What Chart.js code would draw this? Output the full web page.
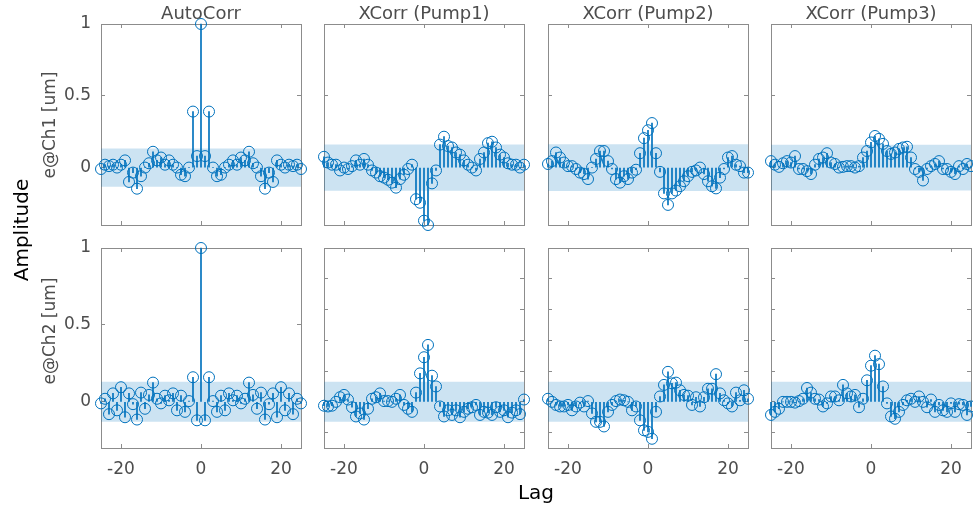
<!DOCTYPE html>
<html lang="en">
<head>
<meta charset="UTF-8">
<title>AutoCorr / XCorr stems</title>
<script src="https://cdn.jsdelivr.net/npm/chart.js@4.4.1/dist/chart.umd.min.js"></script>
<style>
  body { margin: 0; background: #fff; font-family: 'DejaVu Sans', sans-serif; }
  #fig { position: relative; width: 973px; height: 508px; overflow: hidden; }
  #fig canvas { position: absolute; }
  .lbl { position: absolute; white-space: nowrap; line-height: 1; transform: translate(-50%, -50%); }
  .rot { transform: translate(-50%, -50%) rotate(-90deg); }
</style>
</head>
<body>
<div id="fig"></div>
<script>
// --- data ---
const lags = [-25, -24, -23, -22, -21, -20, -19, -18, -17, -16, -15, -14, -13, -12, -11, -10, -9, -8, -7, -6, -5, -4, -3, -2, -1,
  0, 1, 2, 3, 4, 5, 6, 7, 8, 9, 10, 11, 12, 13, 14, 15, 16, 17, 18, 19, 20, 21, 22, 23, 24, 25];
const xTickVals = [-20, 0, 20];
const yTickVals = [0, 0.5, 1];
const yTickValsFine = [-0.2, 0, 0.2, 0.4, 0.6, 0.8, 1];
const titles = ['AutoCorr', 'XCorr (Pump1)', 'XCorr (Pump2)', 'XCorr (Pump3)'];
const rowLabels = ['e@Ch1 [um]', 'e@Ch2 [um]'];

const ch1Auto = [-0.01, 0.02, 0.01, 0.02, 0.00, 0.02, 0.05, -0.10, -0.035, -0.147, -0.06, 0.00, 0.03, 0.11, 0.05, 0.07, 0.02, 0.05, 0.02, 0.00, -0.05, -0.06, 0.00, 0.39, 0.08,
  1.00, 0.08, 0.39, 0.00, -0.06, -0.05, 0.00, 0.02, 0.05, 0.02, 0.07, 0.05, 0.11, 0.03, 0.00, -0.06, -0.147, -0.035, -0.10, 0.05, 0.02, 0.00, 0.02, 0.01, 0.02, -0.01];
const ch1Pump1 = [0.075, 0.035, 0.02, 0.02, -0.02, 0.00, -0.01, 0.01, 0.05, 0.02, 0.06, 0.02, -0.02, -0.035, -0.06, -0.07, -0.085, -0.105, -0.14, -0.08, -0.05, -0.01, 0.02, -0.22, -0.245,
  -0.37, -0.40, -0.11, -0.02, 0.16, 0.215, 0.15, 0.14, 0.105, 0.09, 0.05, 0.02, 0.00, -0.02, 0.06, 0.105, 0.17, 0.18, 0.14, 0.09, 0.07, 0.03, 0.02, 0.02, 0.00, 0.02];
const ch1Pump2 = [0.025, 0.045, 0.105, 0.07, 0.035, 0.01, 0.01, -0.01, -0.035, -0.045, -0.08, 0.00, 0.06, 0.115, 0.115, 0.045, -0.01, -0.08, -0.105, -0.06, -0.08, -0.035, -0.015, 0.10, 0.205,
  0.26, 0.31, 0.10, -0.03, -0.18, -0.26, -0.18, -0.16, -0.13, -0.095, -0.06, -0.03, -0.02, 0.00, -0.045, -0.095, -0.13, -0.145, -0.07, -0.01, 0.07, 0.08, 0.02, 0.01, -0.035, -0.035];
const ch1Pump3 = [0.045, 0.02, 0.005, 0.03, 0.045, 0.035, 0.08, -0.01, -0.01, -0.025, -0.045, 0.02, 0.06, 0.07, 0.10, 0.035, 0.025, 0.00, 0.005, 0.01, 0.01, 0.00, 0.01, 0.07, 0.115,
  0.175, 0.22, 0.20, 0.165, 0.115, 0.095, 0.105, 0.13, 0.14, 0.145, 0.07, -0.01, -0.03, -0.09, -0.01, 0.01, 0.025, 0.045, -0.01, -0.01, -0.03, -0.045, 0.01, -0.01, 0.025, 0.01];
const ch2Auto = [-0.01, 0.02, -0.08, 0.055, -0.055, 0.095, -0.10, 0.055, -0.015, -0.115, 0.06, -0.045, 0.045, 0.125, 0.02, -0.01, 0.04, 0.01, 0.055, -0.055, 0.04, -0.065, 0.005, 0.16, -0.12,
  1.00, -0.12, 0.16, 0.005, -0.065, 0.04, -0.055, 0.055, 0.01, 0.04, -0.01, 0.02, 0.125, 0.045, -0.045, 0.06, -0.115, -0.015, 0.055, -0.10, 0.095, -0.055, 0.055, -0.08, 0.02, -0.01];
const ch2Pump1 = [-0.025, -0.03, -0.025, 0.00, 0.03, 0.045, 0.015, -0.035, -0.095, -0.075, -0.115, -0.045, 0.02, 0.03, 0.055, 0.005, 0.005, 0.00, 0.02, 0.045, -0.02, -0.045, -0.065, 0.06, 0.185,
  0.29, 0.37, 0.17, 0.10, -0.03, -0.095, -0.055, -0.085, -0.055, -0.10, -0.065, -0.045, -0.035, -0.02, -0.085, -0.065, -0.07, -0.085, -0.035, -0.065, -0.055, -0.10, -0.07, -0.055, -0.08, 0.015];
const ch2Pump2 = [0.02, 0.00, -0.02, -0.03, -0.03, -0.02, -0.055, -0.03, -0.005, -0.03, 0.005, -0.075, -0.13, -0.13, -0.16, -0.065, -0.02, 0.005, 0.015, 0.01, 0.00, -0.055, -0.03, -0.12, -0.185,
  -0.195, -0.24, -0.065, 0.035, 0.11, 0.195, 0.12, 0.125, 0.075, 0.045, 0.04, -0.02, 0.03, -0.03, 0.03, 0.085, 0.085, 0.18, 0.055, 0.01, -0.01, -0.03, 0.06, 0.01, 0.075, 0.02];
const ch2Pump3 = [-0.085, -0.065, -0.045, 0.00, 0.00, 0.00, -0.005, 0.005, 0.02, 0.09, 0.06, 0.02, 0.015, -0.03, -0.01, 0.035, 0.035, 0.01, 0.11, 0.055, 0.035, 0.045, -0.035, 0.02, 0.14,
  0.235, 0.30, 0.245, 0.10, -0.01, -0.095, -0.11, -0.065, -0.02, 0.01, 0.02, 0.00, 0.035, 0.00, -0.035, 0.015, -0.065, -0.02, -0.055, -0.065, -0.01, -0.065, -0.015, -0.02, -0.085, -0.03];

// confidence bounds (+/-) for each panel
const ch1Bounds = [0.133, 0.161, 0.163, 0.159];
const ch2Bounds = [0.13, 0.13, 0.13, 0.13];
const yLimits = [[-0.4, 1], [-0.3, 1]];

const seriesGrid = [
  [ch1Auto, ch1Pump1, ch1Pump2, ch1Pump3],
  [ch2Auto, ch2Pump1, ch2Pump2, ch2Pump3]
];
const boundsGrid = [ch1Bounds, ch2Bounds];

// --- layout / style ---
const BLUE = '#0072BD';
const BAND = 'rgba(0, 114, 189, 0.2)';
const AXIS = '#8c8c8c';
const TEXT = '#4d4d4d';
const FONT = 'DejaVu Sans';
const colLeft = [101, 324, 548, 771];
const rowTop = [24, 248];
const plotW = 200;
const rowH = [201, 200];
const pad = { l: 50, t: 12, r: 8, b: 40 };

const fig = document.getElementById('fig');

function fixSize(prop, size) {
  return function (scale) {
    scale[prop] = size;
    scale.paddingTop = 0;
    scale.paddingBottom = 0;
    scale.paddingLeft = 0;
    scale.paddingRight = 0;
  };
}

function setTicks(vals) {
  return function (scale) {
    scale.ticks = vals.map(v => ({ value: v }));
  };
}

function axisGrid() {
  return { offset: false, drawOnChartArea: false, drawTicks: true, tickLength: -4, color: AXIS, lineWidth: 1 };
}

function makePanel(row, col) {
  const values = seriesGrid[row][col];
  const bound = boundsGrid[row][col];
  const yVals = (row === 1 && col > 0) ? yTickValsFine : yTickVals;

  const canvas = document.createElement('canvas');
  canvas.width = plotW + pad.l + pad.r;
  canvas.height = rowH[row] + pad.t + pad.b;
  canvas.style.left = (colLeft[col] - pad.l) + 'px';
  canvas.style.top = (rowTop[row] - pad.t) + 'px';
  fig.appendChild(canvas);

  const points = lags.map((l, i) => ({ x: l, y: values[i] }));

  new Chart(canvas.getContext('2d'), {
    type: 'scatter',
    data: {
      datasets: [
        {
          type: 'line',
          data: [{ x: -25, y: bound }, { x: 25, y: bound }],
          fill: { value: -bound },
          backgroundColor: BAND,
          borderWidth: 0,
          pointRadius: 0,
          order: 3
        },
        {
          type: 'bar',
          data: points,
          backgroundColor: BLUE,
          borderWidth: 0,
          barThickness: 1,
          clip: false,
          order: 2
        },
        {
          type: 'scatter',
          data: points,
          pointRadius: 5.5,
          pointBorderWidth: 1,
          pointBorderColor: BLUE,
          pointBackgroundColor: 'rgba(0,0,0,0)',
          clip: false,
          order: 1
        }
      ]
    },
    options: {
      responsive: false,
      animation: false,
      layout: { padding: { top: pad.t, right: pad.r, left: 0, bottom: 0 } },
      plugins: { legend: { display: false }, tooltip: { enabled: false } },
      scales: {
        x: {
          type: 'linear', position: 'bottom', min: -25, max: 25, offset: false,
          afterBuildTicks: setTicks(xTickVals),
          afterFit: fixSize('height', pad.b),
          grid: axisGrid(),
          border: { display: true, color: AXIS, width: 1 },
          ticks: {
            display: row === 1, padding: 15, color: TEXT,
            font: { family: FONT, size: 17 },
            callback: v => String(v)
          }
        },
        x2: {
          type: 'linear', position: 'top', min: -25, max: 25, offset: false,
          afterBuildTicks: setTicks(xTickVals),
          afterFit: fixSize('height', 0),
          grid: axisGrid(),
          border: { display: true, color: AXIS, width: 1 },
          ticks: { display: false }
        },
        y: {
          type: 'linear', position: 'left', min: yLimits[row][0], max: yLimits[row][1], offset: false,
          afterBuildTicks: setTicks(yVals),
          afterFit: fixSize('width', pad.l),
          grid: axisGrid(),
          border: { display: true, color: AXIS, width: 1 },
          ticks: {
            display: col === 0, padding: 14, color: TEXT,
            font: { family: FONT, size: 17 },
            callback: v => String(v)
          }
        },
        y2: {
          type: 'linear', position: 'right', min: yLimits[row][0], max: yLimits[row][1], offset: false,
          afterBuildTicks: setTicks(yVals),
          afterFit: fixSize('width', 0),
          grid: axisGrid(),
          border: { display: true, color: AXIS, width: 1 },
          ticks: { display: false }
        }
      }
    }
  });
}

for (let r = 0; r < 2; r++) {
  for (let c = 0; c < 4; c++) makePanel(r, c);
}

// --- text labels ---
function addLabel(text, x, y, size, color, rotated) {
  const d = document.createElement('div');
  d.className = 'lbl' + (rotated ? ' rot' : '');
  d.textContent = text;
  d.style.left = x + 'px';
  d.style.top = y + 'px';
  d.style.fontSize = size + 'px';
  d.style.color = color;
  fig.appendChild(d);
}

titles.forEach((t, c) => addLabel(t, colLeft[c] + plotW / 2, 13, 18, TEXT, false));
addLabel(rowLabels[0], 49, 125, 17, TEXT, true);
addLabel(rowLabels[1], 49, 331, 17, TEXT, true);
addLabel('Amplitude', 21, 230, 20, '#000', true);
addLabel('Lag', 536, 492, 20, '#000', false);
</script>
</body>
</html>
